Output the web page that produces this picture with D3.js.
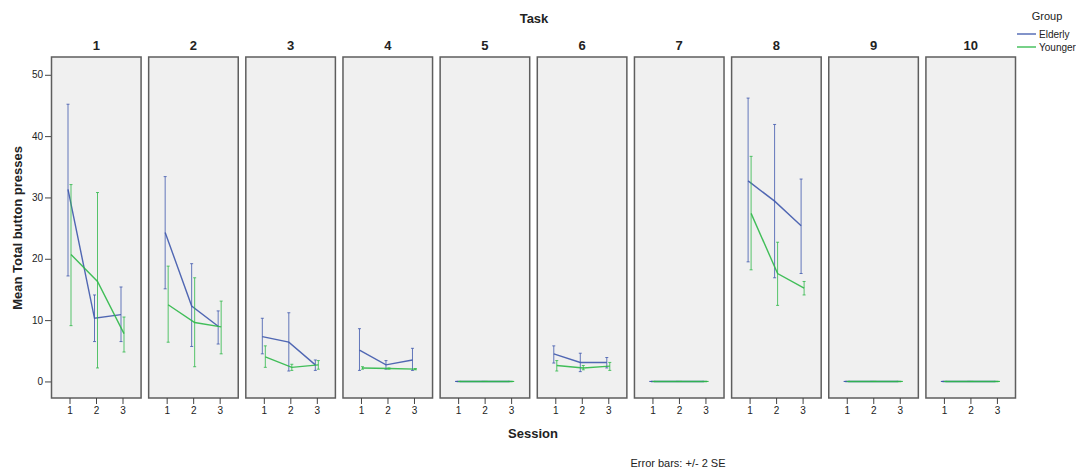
<!DOCTYPE html>
<html>
<head>
<meta charset="utf-8">
<script src="https://cdn.jsdelivr.net/npm/d3@7"></script>
<style>
  body { margin: 0; background: #fff; }
  text { font-family: "Liberation Sans", Arial, sans-serif; fill: #222; }
</style>
</head>
<body>
<svg id="chart" width="1076" height="470"></svg>
<script>
const tasks = ['1', '2', '3', '4', '5', '6', '7', '8', '9', '10'];
const sessions = ['1', '2', '3'];
const groups = ['Elderly', 'Younger'];
const yTicks = [0, 10, 20, 30, 40, 50];

// mean, lower (-2 SE), upper (+2 SE) per task, per session
const elderlyMean = [
  [31.3, 10.3, 10.9], [24.3, 12.3, 9.0], [7.3, 6.4, 2.7], [5.1, 2.7, 3.5], [0, 0, 0],
  [4.5, 3.1, 3.1], [0, 0, 0], [32.7, 29.4, 25.4], [0, 0, 0], [0, 0, 0],
];
const elderlyLow = [
  [17.2, 6.5, 6.5], [15.1, 5.7, 6.1], [4.5, 1.7, 1.8], [1.8, 2.0, 1.8], [0, 0, 0],
  [3.0, 1.6, 2.2], [0, 0, 0], [19.5, 16.9, 17.6], [0, 0, 0], [0, 0, 0],
];
const elderlyHigh = [
  [45.2, 14.1, 15.4], [33.4, 19.2, 11.5], [10.3, 11.2, 3.5], [8.6, 3.4, 5.4], [0, 0, 0],
  [5.8, 4.6, 3.9], [0, 0, 0], [46.2, 41.9, 33.0], [0, 0, 0], [0, 0, 0],
];
const youngerMean = [
  [20.7, 16.3, 7.8], [12.5, 9.6, 8.9], [4.0, 2.3, 2.7], [2.2, 2.1, 2.0], [0, 0, 0],
  [2.6, 2.2, 2.5], [0, 0, 0], [27.4, 17.6, 15.2], [0, 0, 0], [0, 0, 0],
];
const youngerLow = [
  [9.1, 2.2, 4.8], [6.4, 2.4, 4.5], [2.3, 1.8, 2.0], [2.0, 2.0, 1.9], [0, 0, 0],
  [1.7, 1.9, 1.8], [0, 0, 0], [18.2, 12.4, 14.1], [0, 0, 0], [0, 0, 0],
];
const youngerHigh = [
  [32.1, 30.8, 10.5], [18.8, 16.9, 13.1], [5.8, 2.8, 3.4], [2.4, 2.2, 2.1], [0, 0, 0],
  [3.4, 2.6, 3.1], [0, 0, 0], [36.7, 22.7, 16.3], [0, 0, 0], [0, 0, 0],
];

const colors = { Elderly: '#3e58ac', Younger: '#2eb848' };
const dodge = { Elderly: -1.5, Younger: 1.5 };
const series = {
  Elderly: { mean: elderlyMean, low: elderlyLow, high: elderlyHigh },
  Younger: { mean: youngerMean, low: youngerLow, high: youngerHigh },
};

const svg = d3.select('#chart');
const panelTop = 57;
const panelBottom = 398;

const xPanel = d3.scaleBand().domain(tasks).range([51.5, 1015.5]).paddingInner(0.078).paddingOuter(0);
const xSession = d3.scalePoint().domain(sessions).range([18, 71]);
const y = d3.scaleLinear().domain([-2.7, 52.9]).range([panelBottom, panelTop]);

// titles
svg.append('text').attr('x', 534).attr('y', 23).attr('text-anchor', 'middle')
  .attr('font-size', 13).attr('font-weight', 'bold').text('Task');
svg.append('text').attr('x', 533).attr('y', 438).attr('text-anchor', 'middle')
  .attr('font-size', 13).attr('font-weight', 'bold').text('Session');
svg.append('text').attr('transform', 'translate(22,228) rotate(-90)').attr('text-anchor', 'middle')
  .attr('font-size', 13).attr('font-weight', 'bold').text('Mean Total button presses');
svg.append('text').attr('x', 678).attr('y', 467).attr('text-anchor', 'middle')
  .attr('font-size', 11).text('Error bars: +/- 2 SE');

// y axis
const yAxis = svg.append('g').attr('transform', 'translate(51,0)')
  .call(d3.axisLeft(y).tickValues(yTicks).tickSize(6).tickPadding(2));
yAxis.select('.domain').remove();
yAxis.selectAll('line').attr('stroke', '#444');
yAxis.selectAll('text').attr('font-size', 10).attr('font-family', 'Liberation Sans, Arial, sans-serif').attr('fill', '#333');

const line = d3.line().x((d) => d.x).y((d) => y(d.v));

tasks.forEach((task, ti) => {
  const g = svg.append('g').attr('transform', `translate(${xPanel(task)},0)`);
  const w = xPanel.bandwidth();

  g.append('text').attr('x', w / 2).attr('y', 50).attr('text-anchor', 'middle')
    .attr('font-size', 13).attr('font-weight', 'bold').text(task);

  g.append('rect').attr('x', 0).attr('y', panelTop).attr('width', w).attr('height', panelBottom - panelTop)
    .attr('fill', '#f0f0f0').attr('stroke', '#5e5e5e').attr('stroke-width', 1.5);

  const xAxis = g.append('g').attr('transform', `translate(0,${panelBottom})`)
    .call(d3.axisBottom(xSession).tickSize(6).tickPadding(3));
  xAxis.select('.domain').remove();
  xAxis.selectAll('line').attr('stroke', '#444');
  xAxis.selectAll('text').attr('font-size', 10).attr('font-family', 'Liberation Sans, Arial, sans-serif').attr('fill', '#333');

  groups.forEach((grp) => {
    const s = series[grp];
    const pts = sessions.map((se, si) => ({
      x: xSession(se) + dodge[grp],
      v: s.mean[ti][si],
      lo: s.low[ti][si],
      hi: s.high[ti][si],
    }));
    const eb = g.append('g').attr('stroke', colors[grp]).attr('stroke-opacity', 0.8).attr('stroke-width', 1);
    eb.selectAll('line.bar').data(pts).join('line').attr('class', 'bar')
      .attr('x1', (d) => d.x).attr('x2', (d) => d.x).attr('y1', (d) => y(d.lo)).attr('y2', (d) => y(d.hi));
    eb.selectAll('line.capHi').data(pts).join('line').attr('class', 'capHi')
      .attr('x1', (d) => d.x - 1.5).attr('x2', (d) => d.x + 1.5).attr('y1', (d) => y(d.hi)).attr('y2', (d) => y(d.hi));
    eb.selectAll('line.capLo').data(pts).join('line').attr('class', 'capLo')
      .attr('x1', (d) => d.x - 1.5).attr('x2', (d) => d.x + 1.5).attr('y1', (d) => y(d.lo)).attr('y2', (d) => y(d.lo));
    g.append('path').datum(pts).attr('d', line).attr('fill', 'none')
      .attr('stroke', colors[grp]).attr('stroke-width', 1.4).attr('stroke-opacity', 0.9);
  });
});

// legend
const legend = svg.append('g');
legend.append('text').attr('x', 1047).attr('y', 20).attr('text-anchor', 'middle').attr('font-size', 11).text('Group');
groups.forEach((grp, i) => {
  const ly = 34 + i * 13;
  legend.append('line').attr('x1', 1017).attr('x2', 1036).attr('y1', ly).attr('y2', ly)
    .attr('stroke', colors[grp]).attr('stroke-width', 1.3);
  legend.append('text').attr('x', 1039).attr('y', ly + 3.5).attr('font-size', 10).text(grp);
});
</script>
</body>
</html>
